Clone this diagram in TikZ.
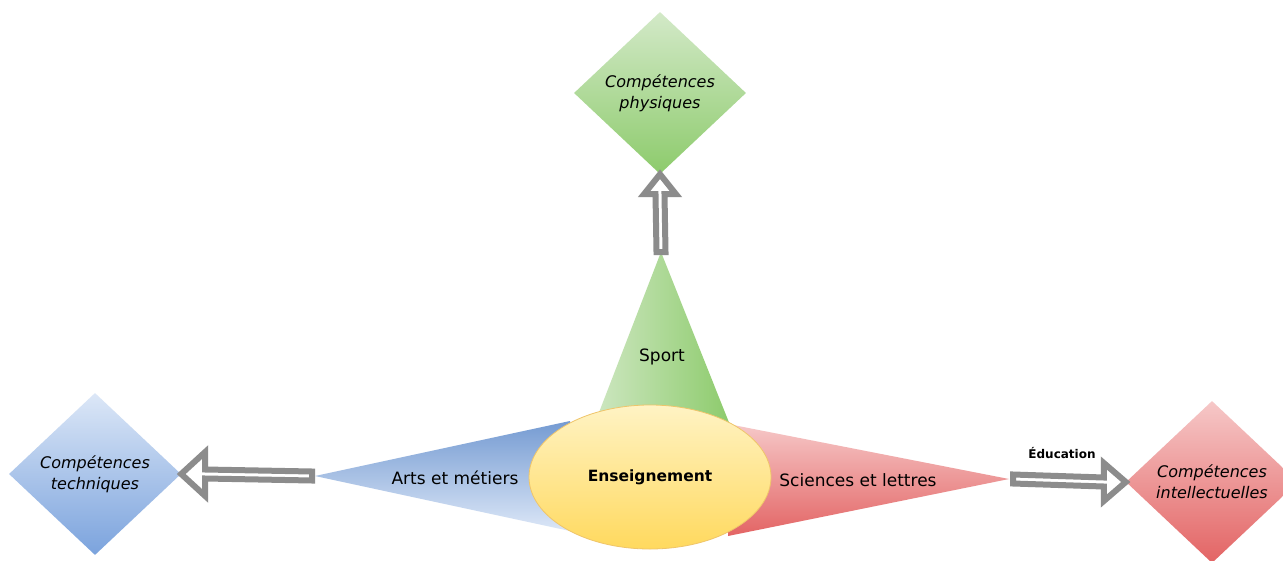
\documentclass[tikz,border=0pt]{standalone}
\usepackage{fontspec}
\setmainfont{DejaVu Sans}
\usetikzlibrary{shapes.geometric,calc}
\definecolor{arrowgray}{HTML}{8C8C8C}
\definecolor{gA1}{HTML}{D3E9C8}
\definecolor{gA2}{HTML}{8DCB6C}
\definecolor{bA1}{HTML}{DCE7F7}
\definecolor{bA2}{HTML}{7BA3DD}
\definecolor{rA1}{HTML}{F6C8C8}
\definecolor{rA2}{HTML}{E36464}
\definecolor{y1}{HTML}{FFF3C4}
\definecolor{y2}{HTML}{FFD95E}
\definecolor{yb}{HTML}{EFC56A}
\begin{document}
\begin{tikzpicture}[x=1pt,y=-1pt,
  skill/.style={diamond, minimum width=172pt, minimum height=162pt, inner sep=0pt,
    align=center, font=\itshape\fontsize{16}{21}\selectfont},
  lbl/.style={font=\fontsize{17}{20}\selectfont, inner sep=0pt},
  bigarrow/.style={draw=arrowgray, line width=6pt, fill=white, line join=miter}]
\useasboundingbox (0,0) rectangle (1283,560);
\clip (0,0) rectangle (1283,560);
\fill[white] (0,0) rectangle (1283,560);

% diamonds
\node[skill, top color=gA1, bottom color=gA2] (phys) at (660,93) {Compétences\\physiques};
\node[skill, top color=bA1, bottom color=bA2] (tech) at (95,474) {Compétences\\techniques};
\node[skill, top color=rA1, bottom color=rA2] (intel) at (1212,482) {Compétences\\intellectuelles};

% wedges
\coordinate (gApex) at (661,252);
\coordinate (gL) at (598,415);
\coordinate (gR) at (730,425);
\shade[left color=gA1!90!gA2, right color=gA2] (gApex) -- (gL) -- (gR) -- cycle;

\coordinate (bApex) at (315,476);
\coordinate (bT) at (570,421);
\coordinate (bB) at (570,531);
\shade[top color=bA2!95!black, bottom color=bA1] (bApex) -- (bT) -- (bB) -- cycle;

\coordinate (rApex) at (1009,479);
\coordinate (rT) at (728,424);
\coordinate (rB) at (728,536);
\shade[top color=rA1, bottom color=rA2] (rApex) -- (rT) -- (rB) -- cycle;

% centre
\node[ellipse, minimum width=242pt, minimum height=144pt, inner sep=0pt,
  top color=y1, bottom color=y2, draw=yb, line width=0.8pt,
  font=\bfseries\fontsize{15.5}{18}\selectfont] (ens) at (650,477) {Enseignement};

% labels
\node[lbl] (sport) at (662,357) {Sport};
\node[lbl] (arts) at (455,478) {Arts et métiers};
\node[lbl] (sci) at (858,480) {Sciences et lettres};

% arrows
\draw[bigarrow] ($(gApex)+(-4.5,0)$) -- ($(phys.south)+(-4.5,20)$) -- ($(phys.south)+(-16,20)$)
  -- (phys.south) -- ($(phys.south)+(16,20)$) -- ($(phys.south)+(4.5,20)$) -- ($(gApex)+(4.5,0)$) -- cycle;
\draw[bigarrow] ($(bApex)+(-3,-4.5)$) -- ($(tech.east)+(24,-4.5)$) -- ($(tech.east)+(24,-22)$)
  -- (tech.east) -- ($(tech.east)+(24,22)$) -- ($(tech.east)+(24,4.5)$) -- ($(bApex)+(-3,4.5)$) -- cycle;
\draw[bigarrow] ($(rApex)+(4,-4.5)$) -- ($(intel.west)+(-22,-4.5)$) -- ($(intel.west)+(-22,-19)$)
  -- (intel.west) -- ($(intel.west)+(-22,19)$) -- ($(intel.west)+(-22,4.5)$) -- ($(rApex)+(4,4.5)$) -- cycle;
\node[font=\bfseries\fontsize{12}{14}\selectfont, inner sep=0pt] (edu) at (1062,453) {Éducation};
\end{tikzpicture}
\end{document}
